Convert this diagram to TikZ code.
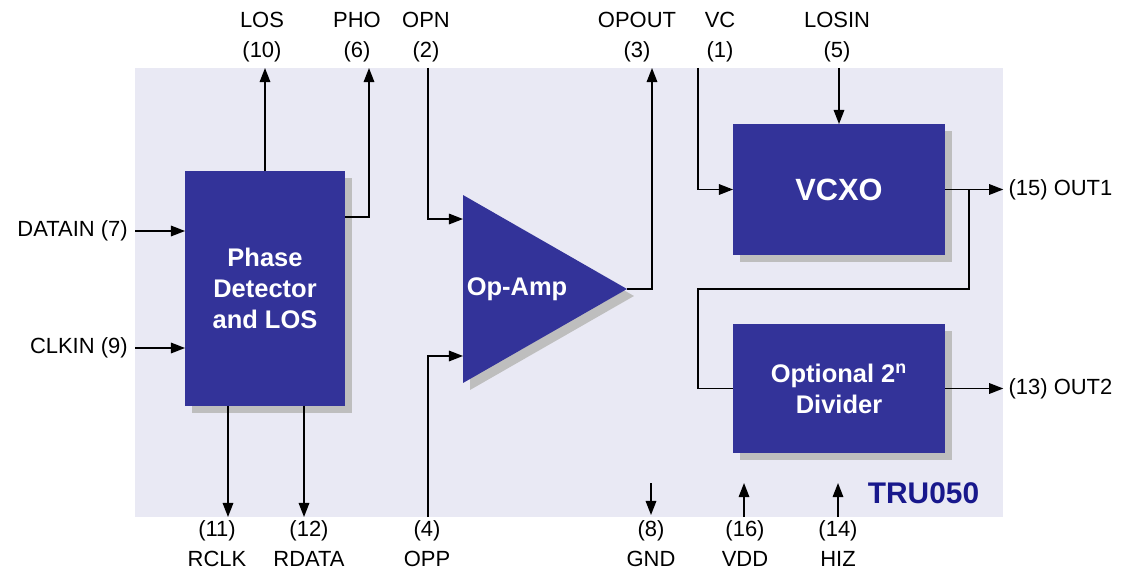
\documentclass[tikz,border=0pt]{standalone}
\usepackage{fontspec}
\setmainfont{Liberation Sans}
\usetikzlibrary{arrows.meta,positioning,shapes.geometric,shadows}
\definecolor{chipblue}{RGB}{51,51,153}
\definecolor{chipback}{RGB}{233,233,244}
\definecolor{chipshade}{RGB}{190,190,190}
\definecolor{chipnavy}{RGB}{24,24,140}
\tikzset{
  shade-drop/.style={
    drop shadow={shadow xshift=0.14cm, shadow yshift=-0.14cm,
      fill=chipshade, opacity=1}
  },
  block/.style={
    rectangle,
    fill=chipblue,
    text=white,
    align=center,
    font=\fontsize{14.5}{17.6}\selectfont\bfseries,
    inner sep=0pt,
    outer sep=0pt,
    shade-drop
  },
  amp/.style={
    isosceles triangle,
    isosceles triangle stretches,
    shape border rotate=0,
    fill=chipblue,
    inner sep=0pt,
    outer sep=0pt,
    minimum width=3.76cm,
    minimum height=3.28cm,
    shade-drop
  },
  wire/.style={line width=0.85pt},
  sig/.style={wire, -{Triangle[length=8pt,width=6pt]}},
  pinlbl/.style={
    align=center,
    font=\fontsize{12.5}{17}\selectfont,
    inner sep=0pt
  }
}

\begin{document}
\begin{tikzpicture}[x=0.02cm, y=-0.02cm]
  \useasboundingbox (0,0) rectangle (1121,571);
  % chip body
  \node[fill=chipback, inner sep=0pt, minimum width=17.36cm, minimum height=8.98cm] (chip) at (569,292.5) {};
  \node[font=\fontsize{17}{20}\selectfont\bfseries, text=chipnavy] (chipname) at (923.5,493) {TRU050};

  % blocks
  \node[block, minimum width=3.2cm, minimum height=4.7cm] (pd) at (265,288.5) {Phase\\Detector\\and LOS};
  \node[amp, anchor=lower side] (amp) at (463,289) {};
  \node[font=\fontsize{14.5}{17}\selectfont\bfseries, text=white] (amptext) at (517,289) {Op-Amp};
  \node[block, minimum width=4.24cm, minimum height=2.62cm, font=\fontsize{17.5}{20}\selectfont\bfseries] (vcxo) at (839,189.5) {VCXO};
  \node[block, minimum width=4.24cm, minimum height=2.58cm] (div) at (839,388.5) {Optional 2\textsuperscript{n}\\Divider};

  % pin points on the chip edge
  \foreach \name/\x in {los/265, pho/369, opn/428, opout/652, vc/698, losin/839}
    \coordinate (\name) at (\x,68);
  \foreach \name/\x in {rclk/228, rdata/304, opp/428, gnd/651, vdd/744, hiz/838}
    \coordinate (\name) at (\x,517);
  \coordinate (datain) at (135,231);
  \coordinate (clkin) at (135,348);
  \coordinate (out1) at (vcxo.east -| chip.east);
  \coordinate (out2) at (div.east -| chip.east);
  \coordinate (tap) at ([xshift=0.48cm]vcxo.east);
  \coordinate (turn) at (698,289);

  % pin labels
  \foreach \name/\x/\txt in {los/262/{LOS\\(10)}, pho/357/{PHO\\(6)}, opn/426/{OPN\\(2)},
      opout/637/{OPOUT\\(3)}, vc/720/{VC\\(1)}, losin/837/{LOSIN\\(5)}}
    \node[pinlbl] (\name-lbl) at (\x,37) {\txt};
  \foreach \name/\x/\txt in {rclk/217/{(11)\\RCLK}, rdata/309/{(12)\\RDATA}, opp/427/{(4)\\OPP},
      gnd/651/{(8)\\GND}, vdd/745/{(16)\\VDD}, hiz/838/{(14)\\HIZ}}
    \node[pinlbl] (\name-lbl) at (\x,543.5) {\txt};
  \node[pinlbl, left=0.14cm of datain] (datain-lbl) {DATAIN (7)};
  \node[pinlbl, left=0.14cm of clkin] (clkin-lbl) {CLKIN (9)};
  \node[pinlbl, right=0.1cm of out1] (out1-lbl) {(15) OUT1};
  \node[pinlbl, right=0.1cm of out2] (out2-lbl) {(13) OUT2};

  % connections
  \draw[sig] (pd.north) -- (los);
  \draw[sig] ([yshift=1.43cm]pd.east) -| (pho);
  \draw[sig] (datain) -- (datain -| pd.west);
  \draw[sig] (clkin) -- (clkin -| pd.west);
  \draw[sig] (rclk |- pd.south) -- (rclk);
  \draw[sig] (rdata |- pd.south) -- (rdata);
  \draw[sig] (opn) |- ([yshift=1.4cm]amp.lower side);
  \draw[sig] (opp) |- ([yshift=-1.34cm]amp.lower side);
  \draw[sig] (amp.apex) -| (opout);
  \draw[sig] (vc) |- (vcxo.west);
  \draw[sig] (losin) -- (vcxo.north);
  \draw[sig] (vcxo.east) -- (out1);
  \draw[wire] (tap) |- (turn) |- (div.west);
  \draw[sig] (div.east) -- (out2);
  \draw[sig] ([yshift=0.68cm]gnd) -- ([yshift=0.04cm]gnd);
  \draw[sig] (vdd) -- ([yshift=0.68cm]vdd);
  \draw[sig] (hiz) -- ([yshift=0.68cm]hiz);
\end{tikzpicture}
\end{document}
